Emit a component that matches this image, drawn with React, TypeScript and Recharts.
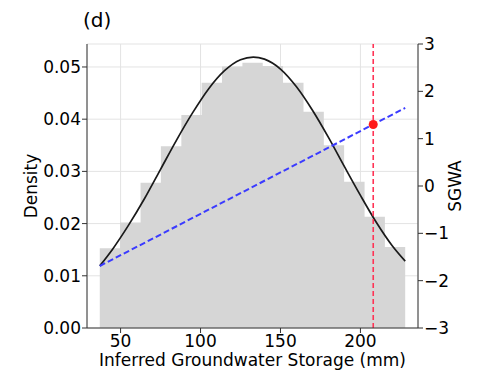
import {
  ComposedChart,
  Area,
  Line,
  Scatter,
  XAxis,
  YAxis,
  CartesianGrid,
  ReferenceLine,
  Label,
} from "recharts";

// histogram bins (edges in mm, density per bin)
const binEdges = [37, 49.7, 62.5, 75.2, 88, 100.7, 113.4, 126.2, 138.9, 151.6, 164.4, 177.1, 189.8, 202.6, 215.3, 228];
const binDensity = [0.0153, 0.0202, 0.0278, 0.0348, 0.0408, 0.047, 0.0501, 0.0508, 0.0502, 0.047, 0.0414, 0.035, 0.028, 0.0213, 0.0155];

// fitted density curve
const curveX = [37, 45, 55, 65, 75, 85, 95, 105, 115, 125, 133, 140, 150, 160, 170, 180, 190, 200, 210, 220, 228];
const curveY = [0.0119, 0.0151, 0.0197, 0.0248, 0.0304, 0.036, 0.0412, 0.0458, 0.0493, 0.0514, 0.0519, 0.0515, 0.0496, 0.0462, 0.0417, 0.0365, 0.0309, 0.0254, 0.0202, 0.0157, 0.0128];

// SGWA relation (right axis)
const sgwaX = [37, 228];
const sgwaY = [-1.69, 1.65];
const markX = 208;
const markY = 1.3;

const xTicks = [50, 100, 150, 200];
const densityTicks = [0, 0.01, 0.02, 0.03, 0.04, 0.05];
const sgwaTicks = [-3, -2, -1, 0, 1, 2, 3];

const histData = binEdges.map((x, i) => ({ x, density: binDensity[Math.min(i, binDensity.length - 1)] }));
const curveData = curveX.map((x, i) => ({ x, density: curveY[i] }));
const sgwaData = sgwaX.map((x, i) => ({ x, sgwa: sgwaY[i] }));
const markData = [{ x: markX, sgwa: markY }];

const AXIS = "#333";
const tick = { fill: "#000", fontSize: 17 };

export default function App() {
  return (
    <div style={{ position: "absolute", left: 0, top: 0, width: 488, height: 372, fontFamily: "DejaVu Sans", background: "#fff" }}>
      <div style={{ position: "absolute", left: 83, top: 8, fontSize: 20, lineHeight: "24px", color: "#000" }}>(d)</div>
      <ComposedChart width={488} height={372} margin={{ top: 44, right: 0, bottom: 0, left: 0 }}>
        <CartesianGrid yAxisId="left" stroke="#e3e3e3" strokeWidth={1} />
        <XAxis
          dataKey="x"
          type="number"
          domain={[29, 236]}
          ticks={xTicks}
          allowDataOverflow
          height={44}
          tick={tick}
          tickSize={5}
          stroke={AXIS}
        >
          <Label value="Inferred Groundwater Storage (mm)" position="insideBottom" offset={6} fill="#000" fontSize={17} />
        </XAxis>
        <XAxis xAxisId="top" orientation="top" type="number" domain={[29, 236]} height={0} tick={false} tickLine={false} stroke={AXIS} />
        <YAxis
          yAxisId="left"
          type="number"
          domain={[0, 0.0544]}
          ticks={densityTicks}
          allowDataOverflow
          width={87}
          tick={tick}
          tickSize={5}
          tickMargin={1}
          tickFormatter={(v: number) => v.toFixed(2)}
          stroke={AXIS}
        >
          <Label value="Density" angle={-90} position="insideLeft" offset={31} fill="#000" fontSize={17} style={{ textAnchor: "middle" }} />
        </YAxis>
        <YAxis
          yAxisId="right"
          orientation="right"
          dataKey="sgwa"
          type="number"
          domain={[-3, 3]}
          ticks={sgwaTicks}
          allowDataOverflow
          width={70}
          tick={tick}
          tickSize={5}
          tickMargin={1}
          tickFormatter={(v: number) => (v < 0 ? "\u2212" + Math.abs(v) : String(v))}
          stroke={AXIS}
        >
          <Label value="SGWA" angle={-90} position="insideLeft" offset={37} fill="#000" fontSize={17} style={{ textAnchor: "middle" }} />
        </YAxis>
        <Area
          yAxisId="left"
          data={histData}
          dataKey="density"
          type="stepAfter"
          fill="#d6d6d6"
          fillOpacity={1}
          stroke="none"
          isAnimationActive={false}
        />
        <Line
          yAxisId="left"
          data={curveData}
          dataKey="density"
          type="monotone"
          stroke="#1a1a1a"
          strokeWidth={1.7}
          dot={false}
          isAnimationActive={false}
        />
        <Line
          yAxisId="right"
          data={sgwaData}
          dataKey="sgwa"
          stroke="#3b3bff"
          strokeWidth={2}
          strokeDasharray="6 3"
          dot={false}
          isAnimationActive={false}
        />
        <ReferenceLine yAxisId="left" x={markX} stroke="#ff3355" strokeWidth={1.6} strokeDasharray="5 3" />
        <Scatter
          yAxisId="right"
          data={markData}
          dataKey="sgwa"
          fill="#ff1a1a"
          shape={(p: any) => <circle cx={p.cx} cy={p.cy} r={4.5} fill="#ff1a1a" />}
          isAnimationActive={false}
        />
      </ComposedChart>
    </div>
  );
}
